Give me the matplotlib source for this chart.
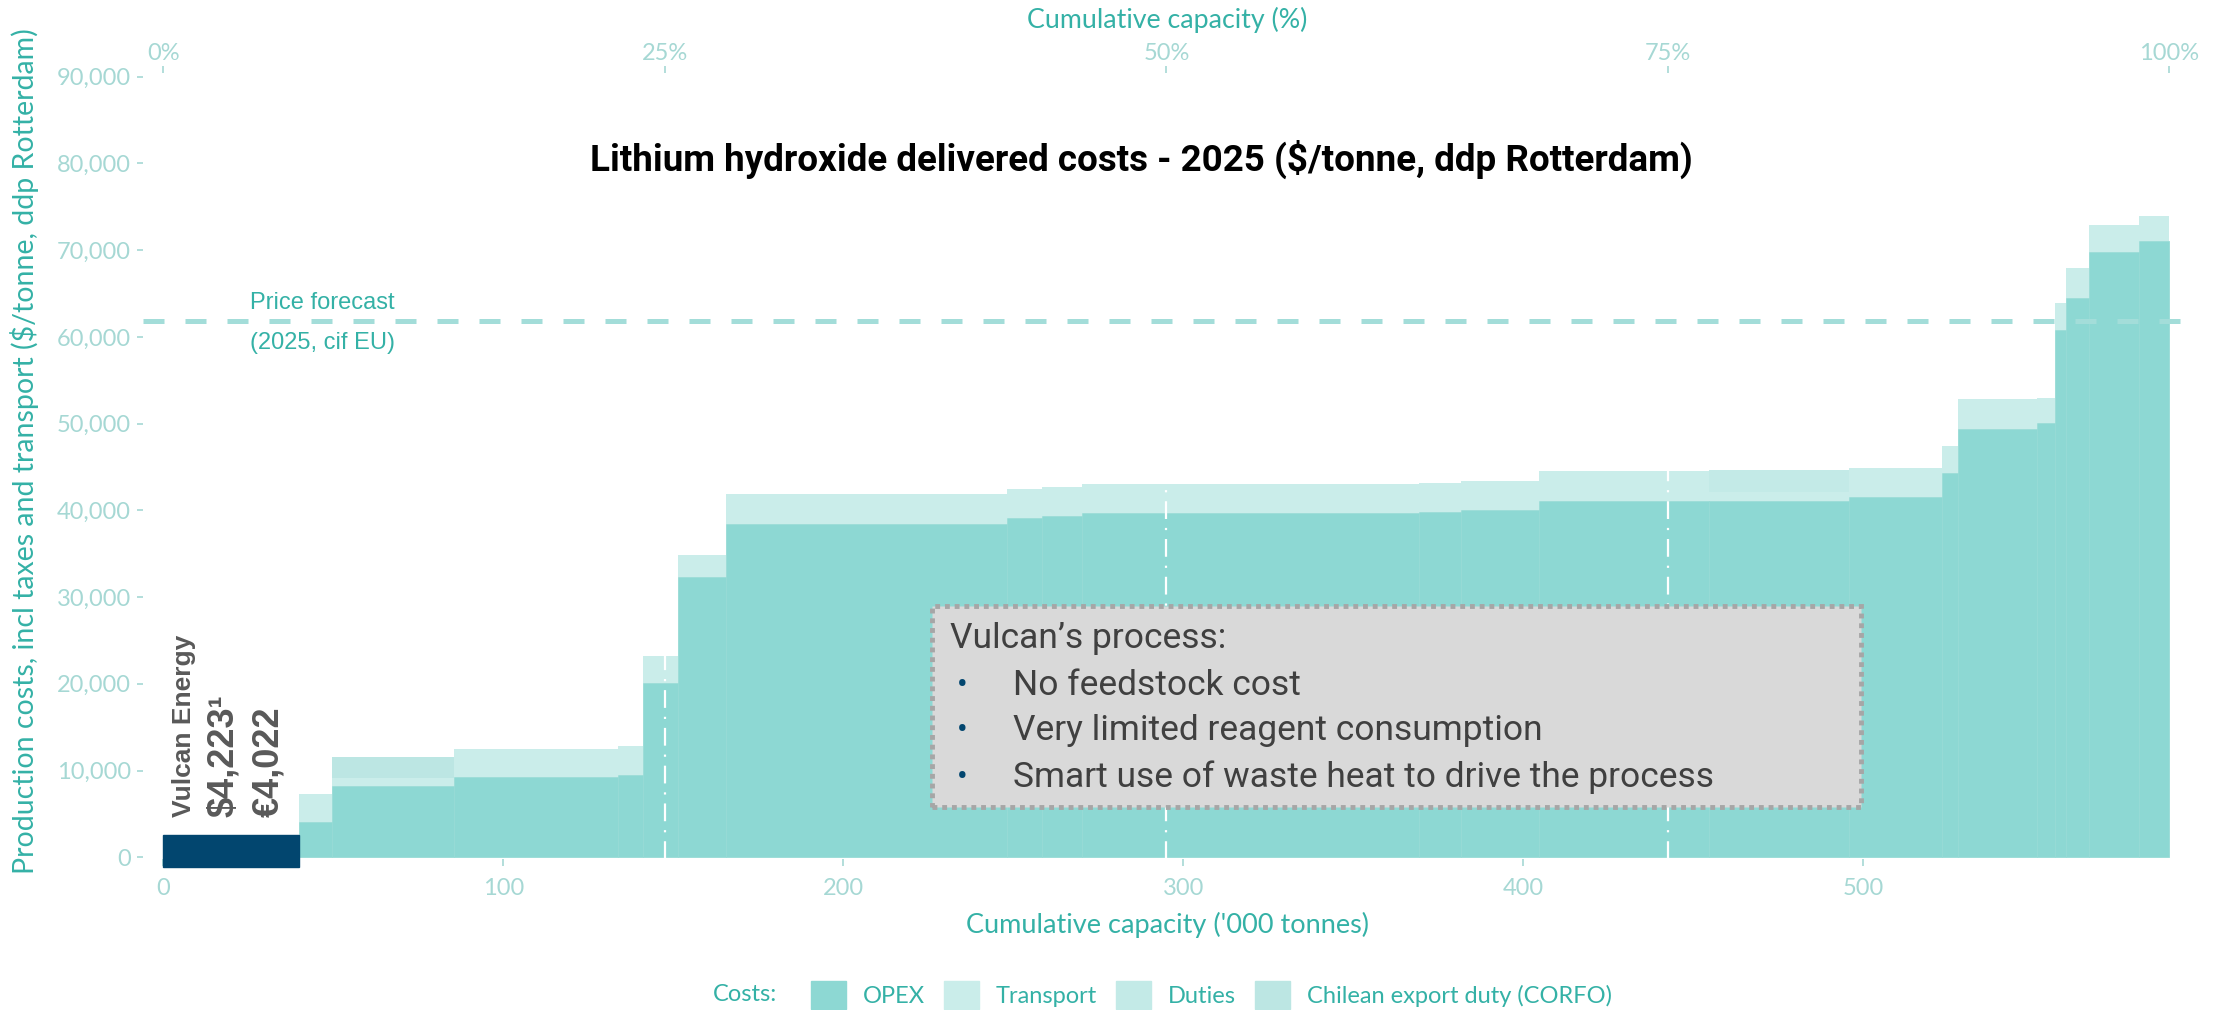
import numpy as np
import matplotlib
matplotlib.use("Agg")
import matplotlib.pyplot as plt
from matplotlib.patches import Patch, Rectangle
from matplotlib.ticker import FuncFormatter

# cost curve segments ('000 tonnes capacity, $/tonne)
cap_start = [40.0, 49.7, 85.4, 133.7, 141.0, 151.3, 165.6, 248.1, 258.4, 270.2, 369.3,
             381.6, 404.7, 454.7, 495.9, 523.0, 527.9, 551.0, 556.4, 559.5, 566.5, 581.0]
cap_end = [49.7, 85.4, 133.7, 141.0, 151.3, 165.6, 248.1, 258.4, 270.2, 369.3, 381.6,
           404.7, 454.7, 495.9, 523.0, 527.9, 551.0, 556.4, 559.5, 566.5, 581.0, 590.0]
opex = [4080, 8200, 9240, 9540, 20050, 32350, 38480, 39070, 39340, 39660, 39850,
        40050, 41110, 41110, 41500, 44300, 49340, 50030, 60790, 64440, 69750, 71090]
transport = [3250, 960, 3240, 3320, 3110, 2450, 3400, 3390, 3390, 3360, 3350,
             3350, 3430, 1040, 3420, 3100, 3460, 2970, 3150, 3460, 3150, 2880]
duties = [0, 0, 0, 0, 0, 0, 0, 0, 0, 0, 0,
          0, 0, 2500, 0, 0, 0, 0, 0, 0, 0, 0]
corfo = [0, 2370, 0, 0, 0, 0, 0, 0, 0, 0, 0,
         0, 0, 0, 0, 0, 0, 0, 0, 0, 0, 0]

vulcan_capacity = [0, 40]
vulcan_bar_range = [-1100, 2550]
vulcan_labels = ["Vulcan Energy", "\\$4,223¹", "€4,022"]

price_forecast = 61800
cum_pct_ticks = [0, 25, 50, 75, 100]
y_ticks = np.arange(0, 90001, 10000)
x_ticks = [0, 100, 200, 300, 400, 500]

box_lines = ["No feedstock cost", "Very limited reagent consumption",
             "Smart use of waste heat to drive the process"]

# colours
c_opex = "#8DD8D3"
c_transport = "#CAEDEA"
c_duties = "#C3EAE7"
c_corfo = "#BCE6E3"
c_navy = "#02466F"
c_tick = "#A6D8D4"
c_label = "#34B1A6"

fig = plt.figure(figsize=(22.24, 10.10), dpi=100)
ax = fig.add_axes([0.0643, 0.1495, 0.9203, 0.778])

starts = np.array(cap_start)
widths = np.array(cap_end) - starts
b1 = np.array(opex)
b2 = b1 + np.array(transport)
b3 = b2 + np.array(duties)

ax.bar(starts, opex, width=widths, align="edge", color=c_opex,
       edgecolor="#97DBD6", linewidth=0.6, zorder=2)
ax.bar(starts, transport, width=widths, bottom=b1, align="edge",
       color=c_transport, linewidth=0, zorder=2)
ax.bar(starts, duties, width=widths, bottom=b2, align="edge",
       color=c_duties, linewidth=0, zorder=2)
ax.bar(starts, corfo, width=widths, bottom=b3, align="edge",
       color=c_corfo, linewidth=0, zorder=2)

# quartile markers of cumulative capacity
total_cap = cap_end[-1]
for p in cum_pct_ticks[1:-1]:
    ax.axvline(total_cap * p / 100, color="white", lw=1.6,
               linestyle=(0, (8, 4, 1, 4)), zorder=3)

# price forecast
ax.axhline(price_forecast, color="#A3DDD9", lw=3.6, linestyle=(0, (4.2, 4.2)), zorder=4)
ax.text(25.5, 63900, "Price forecast", fontsize=17, color=c_label,
        family="Liberation Sans", ha="left", va="center")
ax.text(25.5, 59300, "(2025, cif EU)", fontsize=17, color=c_label,
        family="Liberation Sans", ha="left", va="center")

# Vulcan bar and labels
ax.add_patch(Rectangle((vulcan_capacity[0], vulcan_bar_range[0]),
                       vulcan_capacity[1] - vulcan_capacity[0],
                       vulcan_bar_range[1] - vulcan_bar_range[0],
                       color=c_navy, zorder=5, clip_on=False))
for xx, txt, fs in zip([6.1, 17.6, 31.1], vulcan_labels, [19, 26, 26]):
    ax.text(xx, 4650, txt, rotation=90, ha="center", va="bottom",
            fontsize=fs, fontweight="bold", color="#595959",
            family="Liberation Sans", zorder=6)

# text box
ax.add_patch(Rectangle((226, 5800), 273.3, 23170, facecolor="#D9D9D9",
                       edgecolor="#A6A6A6", lw=3.5, linestyle=(0, (1, 1)), zorder=7))
ax.text(231.4, 25280, "Vulcan’s process:", fontsize=25.5, color="#404040",
        family="Roboto", ha="left", va="center", zorder=8)
for yy, line in zip([19860, 14670, 9250], box_lines):
    ax.text(233.4, yy, "•", fontsize=23, color=c_navy, ha="left", va="center",
            family="Roboto", zorder=8)
    ax.text(249.9, yy, line, fontsize=25.5, color="#404040", ha="left", va="center",
            family="Roboto", zorder=8)

# axes styling
ax.set_xlim(-6, 596)
ax.set_ylim(-200, 90400)
for s in ax.spines.values():
    s.set_visible(False)
ax.set_yticks(y_ticks)
ax.yaxis.set_major_formatter(FuncFormatter(lambda v, pos: f"{int(v):,}"))
ax.set_xticks(x_ticks)
ax.tick_params(axis="y", colors=c_tick, labelsize=17, length=4.5, width=1.2, pad=4)
ax.tick_params(axis="x", colors=c_tick, labelsize=17, length=5, width=1.2, pad=9)
for lab in ax.get_xticklabels() + ax.get_yticklabels():
    lab.set_family("Lato")

sec = ax.secondary_xaxis("top", functions=(lambda x: x / total_cap * 100,
                                           lambda p: p * total_cap / 100))
sec.set_xticks(cum_pct_ticks)
sec.xaxis.set_major_formatter(FuncFormatter(lambda v, pos: f"{int(v)}%"))
sec.tick_params(colors=c_tick, labelsize=17, length=5, width=1.2, pad=2)
for s in sec.spines.values():
    s.set_visible(False)
for lab in sec.get_xticklabels():
    lab.set_family("Lato")

fig.text(0.525, 0.980, "Cumulative capacity (%)", fontsize=19.3, color=c_label,
         family="Lato", ha="center", va="center")
fig.text(0.525, 0.084, "Cumulative capacity ('000 tonnes)", fontsize=19.5, color=c_label,
         family="Lato", ha="center", va="center")
fig.text(0.0112, 0.553, "Production costs, incl taxes and transport (\\$/tonne, ddp Rotterdam)",
         fontsize=20.5, color=c_label, family="Lato", rotation=90, ha="center", va="center")

fig.text(0.513, 0.8426, "Lithium hydroxide delivered costs - 2025 (\\$/tonne, ddp Rotterdam)",
         fontsize=26.5, fontweight="bold", color="black", family="Roboto",
         ha="center", va="center")

# legend
handles = [Patch(color=c_opex), Patch(color=c_transport),
           Patch(color=c_duties), Patch(color=c_corfo)]
labels = ["OPEX", "Transport", "Duties", "Chilean export duty (CORFO)"]
fig.text(0.3206, 0.0149, "Costs:", fontsize=17, color=c_label, family="Lato",
         ha="left", va="center")
fig.legend(handles, labels, loc="center", bbox_to_anchor=(0.5446, 0.0149), ncol=4,
           frameon=False, handlelength=1.5, handleheight=1.5,
           handletextpad=0.7, columnspacing=0.8, labelcolor=c_label,
           prop={"family": "Lato", "size": 17}, borderpad=0)

fig.savefig("out.png", dpi=100)
